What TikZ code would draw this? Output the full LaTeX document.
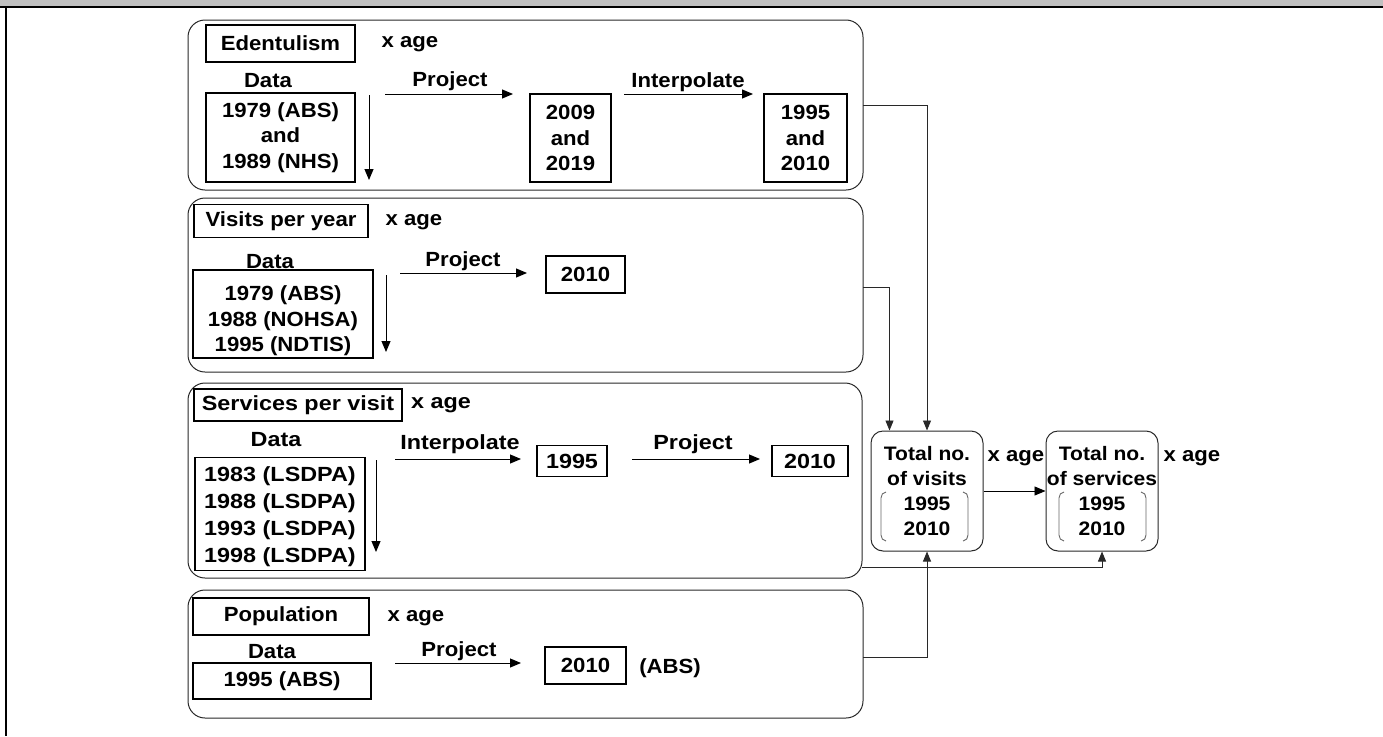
\documentclass[tikz,border=0pt]{standalone}
\usepackage{fontspec}
\setmainfont{Liberation Sans}[FakeStretch=1.08]
\newfontfamily\widesans{Liberation Sans}[FakeStretch=1.14]
\usetikzlibrary{arrows.meta,calc}
\definecolor{hdr}{RGB}{192,192,192}
\definecolor{pline}{RGB}{40,40,40}
\begin{document}
\begin{tikzpicture}[x=1pt,y=-1pt,
 every node/.style={inner sep=0pt, font=\bfseries\fontsize{20.5}{25.5}\selectfont},
 bx/.style={draw, line width=1.4pt, align=center},
 panel/.style={draw=pline, line width=1pt, rounded corners=17pt},
 tot/.style={draw=pline, line width=1pt, rounded corners=12pt, align=center, minimum width=112pt, minimum height=120pt, font=\bfseries\fontsize{19.5}{24.7}\selectfont},
 arr/.style={line width=1pt, -{Triangle[length=11pt,width=9pt]}},
 con/.style={line width=0.9pt, draw=pline, -{Triangle[length=10pt,width=8pt]}},
 brk/.style={draw=black!60, line width=0.9pt},
 sv/.style={font=\widesans\bfseries\fontsize{20.5}{27}\selectfont},
]
\useasboundingbox (0,0) rectangle (1383,736);
\fill[hdr] (0,0) rectangle (1383,6.5);
\draw[line width=2pt] (0,7) -- (1383,7);
\draw[line width=2pt] (6,6) -- (6,736);

% panels
\node[panel, minimum width=675pt, minimum height=170pt] (p1) at (525.5,105) {};
\node[panel, minimum width=675pt, minimum height=174pt] (p2) at (525.5,285) {};
\node[panel, minimum width=674pt, minimum height=195pt] (p3) at (525,480.5) {};
\node[panel, minimum width=675pt, minimum height=128pt] (p4) at (525.5,654) {};

% panel 1
\node[bx, minimum width=149pt, minimum height=37pt] (ed) at (280.5,43.5) {Edentulism};
\node (xa1) at (410,44) {x age};
\node[anchor=base] (dl1) at (268,87) {Data};
\node[bx, minimum width=149pt, minimum height=89pt] (d1) at (280.5,137.5) {1979 (ABS)\\and\\1989 (NHS)};
\coordinate (v1a) at (369,95); \coordinate (v1b) at (369,180);
\draw[arr] (v1a) -- (v1b);
\coordinate (h1a) at (385,94); \coordinate (h1b) at (513,94);
\draw[arr] (h1a) -- (h1b);
\node[anchor=base] (pl1) at (450,86) {Project};
\node[bx, minimum width=81pt, minimum height=88pt] (y1) at (570.5,138) {2009\\and\\2019};
\coordinate (h2a) at (624,94); \coordinate (h2b) at (753,94);
\draw[arr] (h2a) -- (h2b);
\node[anchor=base] (il1) at (688,87) {Interpolate};
\node[bx, minimum width=83pt, minimum height=88pt] (y2) at (805.5,138) {1995\\and\\2010};

% panel 2
\node[bx, minimum width=174pt, minimum height=33pt] (vp) at (281,221) {Visits per year};
\node (xa2) at (414,222) {x age};
\node[anchor=base] (dl2) at (270,268) {Data};
\node[bx, minimum width=180pt, minimum height=88pt] (d2) at (283,314) {};
\node[align=center] (d2t) at (283,321) {1979 (ABS)\\1988 (NOHSA)\\1995 (NDTIS)};
\coordinate (v2a) at (386,275); \coordinate (v2b) at (386,352);
\draw[arr] (v2a) -- (v2b);
\coordinate (h3a) at (400,273); \coordinate (h3b) at (527,273);
\draw[arr] (h3a) -- (h3b);
\node[anchor=base] (pl2) at (463,266) {Project};
\node[bx, minimum width=79pt, minimum height=37pt] (y3) at (585.5,274.5) {2010};

% panel 3
\node[bx, sv, minimum width=208pt, minimum height=32pt] (sp) at (298,405) {Services per visit};
\node[sv] (xa3) at (441,405) {x age};
\node[sv, anchor=base] (dl3) at (276,446) {Data};
\node[bx, minimum width=170pt, minimum height=113pt] (d3) at (280,514) {};
\node[sv, align=center] (d3t) at (280,517) {1983 (LSDPA)\\1988 (LSDPA)\\1993 (LSDPA)\\1998 (LSDPA)};
\coordinate (v3a) at (376,460); \coordinate (v3b) at (376,552);
\draw[arr] (v3a) -- (v3b);
\coordinate (h4a) at (395,459); \coordinate (h4b) at (521,459);
\draw[arr] (h4a) -- (h4b);
\node[sv, anchor=base] (il2) at (460,449) {Interpolate};
\node[bx, sv, minimum width=70pt, minimum height=31pt] (y4) at (572,461) {1995};
\coordinate (h5a) at (632,459); \coordinate (h5b) at (760,459);
\draw[arr] (h5a) -- (h5b);
\node[sv, anchor=base] (pl3) at (693,449) {Project};
\node[bx, sv, minimum width=76pt, minimum height=31pt] (y5) at (810,461) {2010};

% panel 4
\node[bx, minimum width=176pt, minimum height=37pt] (pp) at (281,616.5) {Population};
\node (xa4) at (416,618) {x age};
\node[anchor=base] (dl4) at (272,658) {Data};
\node[bx, minimum width=178pt, minimum height=36pt] (d4) at (282,681) {1995 (ABS)};
\coordinate (h6a) at (395,663); \coordinate (h6b) at (521,663);
\draw[arr] (h6a) -- (h6b);
\node[anchor=base] (pl4) at (459,656) {Project};
\node[bx, minimum width=81pt, minimum height=37pt] (y6) at (585.5,665.5) {2010};
\node (abs) at (670,668) {(ABS)};

% totals
\node[tot] (tv) at (927,491) {Total no.\\of visits\\1995\\2010};
\node[tot] (ts) at (1102,491) {Total no.\\of services\\1995\\2010};
\node (xa5) at (1016,458) {x age};
\node (xa6) at (1192,458) {x age};
\draw[arr, line width=0.9pt] (tv.east) -- (ts.west);

\draw[brk] (886,492) to[out=180,in=90] (881,498) -- (881,535) to[out=-90,in=180] (886,541);
\draw[brk] (963,492) to[out=0,in=90] (968,498) -- (968,535) to[out=-90,in=0] (963,541);
\draw[brk] (1064,492) to[out=180,in=90] (1059,498) -- (1059,535) to[out=-90,in=180] (1064,541);
\draw[brk] (1141,492) to[out=0,in=90] (1146,498) -- (1146,535) to[out=-90,in=0] (1141,541);

% connectors
\coordinate (e1) at (863,105);
\draw[con] (e1) -| (tv.north);
\coordinate (e2) at (863,287);
\draw[con] (e2) -| ($(tv.north west)+(19,0)$);
\coordinate (e3) at (862,567);
\draw[con] (e3) -| (ts.south);
\coordinate (e4) at (863,657);
\draw[con] (e4) -| (tv.south);
\end{tikzpicture}
\end{document}
